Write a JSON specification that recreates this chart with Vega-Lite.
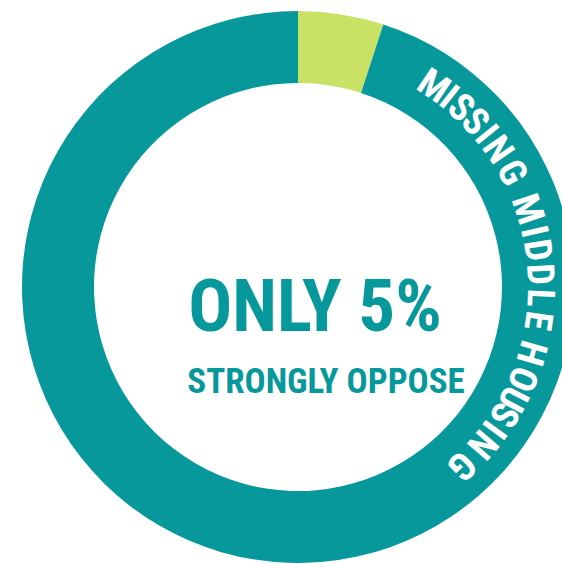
{
  "$schema": "https://vega.github.io/schema/vega-lite/v6.json",
  "width": 528,
  "height": 554,
  "autosize": {"type": "none"},
  "padding": {"left": 34, "top": 10, "right": 0, "bottom": 0},
  "background": "white",
  "config": {"view": {"stroke": null}},
  "datasets": {
    "shares": [
      {"response": "Strongly oppose", "share": 5, "rank": 1},
      {"response": "Other", "share": 95, "rank": 2}
    ],
    "ring": [
      {"char": "M", "deg": 34},
      {"char": "I", "deg": 38.5},
      {"char": "S", "deg": 42.3},
      {"char": "S", "deg": 47},
      {"char": "I", "deg": 51},
      {"char": "N", "deg": 55.5},
      {"char": "G", "deg": 61.9},
      {"char": "M", "deg": 71.3},
      {"char": "I", "deg": 76.8},
      {"char": "D", "deg": 81.3},
      {"char": "D", "deg": 87},
      {"char": "L", "deg": 92.6},
      {"char": "E", "deg": 98},
      {"char": "H", "deg": 105.8},
      {"char": "O", "deg": 112.3},
      {"char": "U", "deg": 117.5},
      {"char": "S", "deg": 121.8},
      {"char": "I", "deg": 126},
      {"char": "N", "deg": 130.5},
      {"char": "G", "deg": 137.5}
    ],
    "center": [
      {"line": 1, "label": "ONLY 5%"},
      {"line": 2, "label": "STRONGLY OPPOSE"}
    ]
  },
  "layer": [
    {
      "data": {"name": "shares"},
      "mark": {"type": "arc", "outerRadius": 276, "innerRadius": 204},
      "encoding": {
        "theta": {"field": "share", "type": "quantitative", "stack": true, "scale": {"domain": [0, 100]}},
        "order": {"field": "rank", "type": "quantitative"},
        "color": {
          "field": "response",
          "type": "nominal",
          "scale": {"domain": ["Strongly oppose", "Other"], "range": ["#c9e266", "#07989c"]},
          "legend": null
        }
      }
    },
    {
      "data": {"name": "ring"},
      "mark": {
        "type": "text",
        "radius": 241,
        "font": "Noto Sans ExtraCondensed, Noto Sans Condensed, Roboto Condensed, Open Sans Condensed, Roboto",
        "fontSize": 38,
        "fontWeight": "bold",
        "fill": "white",
        "align": "center",
        "baseline": "middle"
      },
      "encoding": {
        "theta": {"field": "deg", "type": "quantitative", "scale": {"domain": [0, 360], "range": [0, 6.283185307]}},
        "angle": {"field": "deg", "type": "quantitative", "scale": {"domain": [0, 360], "range": [0, 360]}},
        "text": {"field": "char"}
      }
    },
    {
      "data": {"name": "center"},
      "transform": [{"filter": "datum.line == 1"}],
      "mark": {
        "type": "text",
        "font": "Noto Sans ExtraCondensed, Noto Sans Condensed, Roboto Condensed, Open Sans Condensed, Roboto",
        "fontSize": 73,
        "fontWeight": "bold",
        "fill": "#07989c",
        "align": "center",
        "baseline": "alphabetic",
        "dx": 17,
        "dy": 44
      },
      "encoding": {"text": {"field": "label"}}
    },
    {
      "data": {"name": "center"},
      "transform": [{"filter": "datum.line == 2"}],
      "mark": {
        "type": "text",
        "font": "Noto Sans ExtraCondensed, Noto Sans Condensed, Roboto Condensed, Open Sans Condensed, Roboto",
        "fontSize": 35,
        "fontWeight": "bold",
        "fill": "#07989c",
        "align": "center",
        "baseline": "alphabetic",
        "dx": 28,
        "dy": 106
      },
      "encoding": {"text": {"field": "label"}}
    }
  ],
  "resolve": {"scale": {"theta": "independent"}}
}
